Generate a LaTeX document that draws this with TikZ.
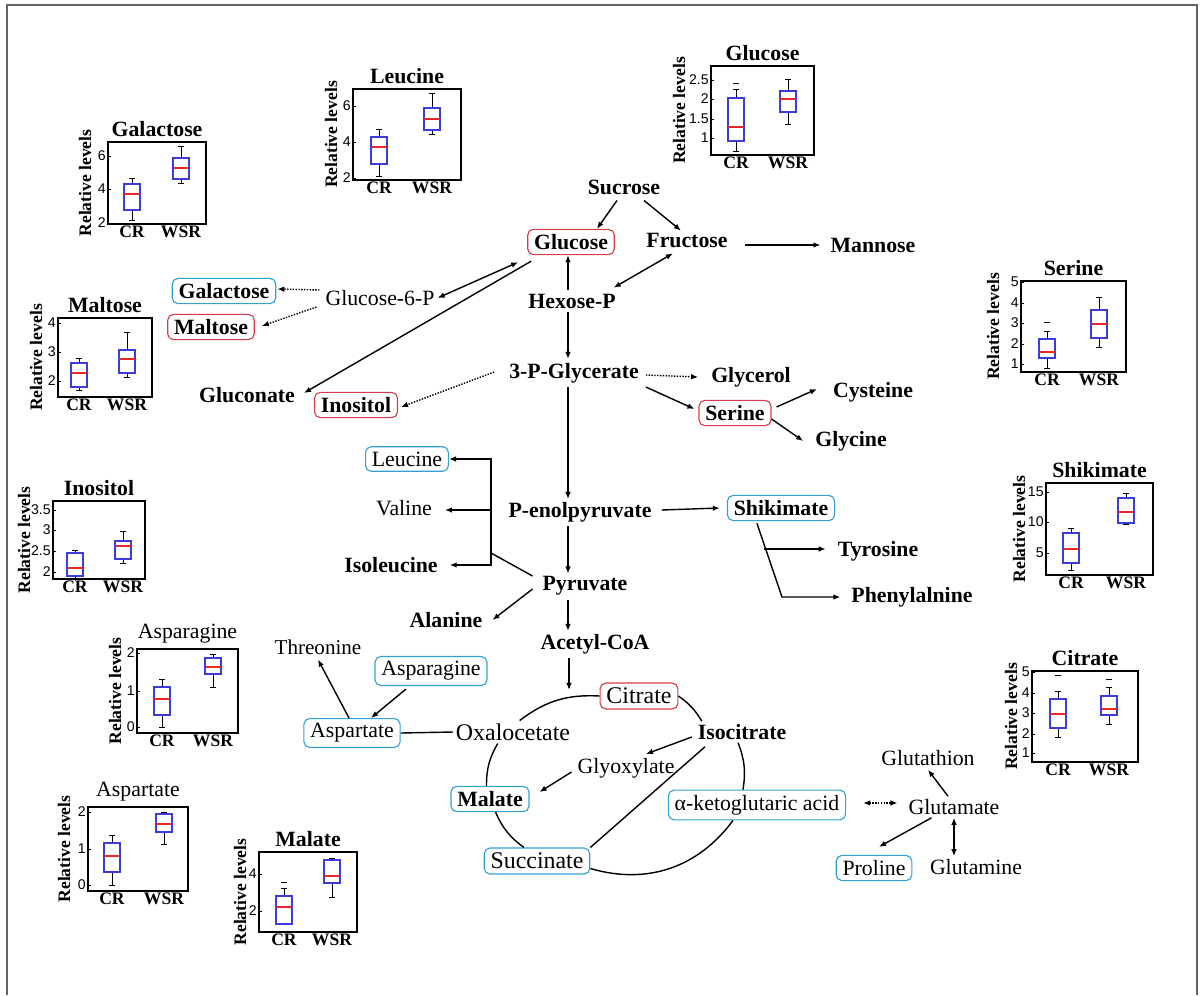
\documentclass[tikz,border=0pt]{standalone}
\usepackage{fontspec}
\setmainfont{Liberation Serif}
\setsansfont{Liberation Sans}
\usetikzlibrary{arrows.meta,calc}
\definecolor{up_red}{RGB}{215, 60, 70}
\definecolor{dn_blue}{RGB}{50, 160, 215}
\definecolor{box_blue}{RGB}{60, 60, 220}
\definecolor{med_red}{RGB}{235, 40, 40}
\definecolor{outer_gray}{RGB}{100, 100, 100}
\tikzstyle{met}=[font=\bfseries\fontsize{15.5}{18}\selectfont,inner sep=2pt]
\tikzstyle{metr}=[font=\fontsize{15.5}{18}\selectfont,inner sep=2pt]
\tikzstyle{upbox}=[draw=up_red,rounded corners=4pt,line width=0.8pt,
  inner xsep=4.5pt,inner ysep=3.5pt]
\tikzstyle{dnbox}=[draw=dn_blue,rounded corners=4pt,line width=0.8pt,
  inner xsep=4.5pt,inner ysep=3.5pt]
\tikzstyle{ln}=[line width=1pt]
\tikzstyle{arr}=[line width=1pt,->]
\tikzstyle{arr2}=[line width=1pt,<->]
\tikzstyle{dotarr}=[line width=1pt,densely dotted,->]
\tikzstyle{dotarr2}=[line width=1pt,densely dotted,<->]
\tikzstyle{outer}=[draw=outer_gray,line width=1.4pt]
\tikzstyle{frm}=[line width=1pt]
\tikzstyle{whisk}=[line width=0.7pt]
\tikzstyle{bx}=[draw=box_blue,line width=0.8pt]
\tikzstyle{med}=[draw=med_red,line width=1pt]
\tikzstyle{ctitle}=[font=\bfseries\fontsize{15.5}{18}\selectfont,inner sep=1pt]
\tikzstyle{clab}=[font=\bfseries\fontsize{12.5}{14}\selectfont,inner sep=1pt]
\tikzstyle{ylab}=[font=\bfseries\fontsize{12.5}{14}\selectfont,inner sep=0pt]
\tikzstyle{tck}=[font=\sffamily\fontsize{10}{12}\selectfont,anchor=east,inner sep=1.5pt]
\newcommand{\relchart}[9]{%
  \draw [style=frm] (#1,#2) rectangle (#3,#4);
  \node [style=ctitle, anchor=south] (#9t) at ({(#1+#3)/2},#2-4) {#7};
  \node [style=clab, anchor=north] (#9c) at (#5,#4) {CR};
  \node [style=clab, anchor=north] (#9w) at (#6,#4) {WSR};
  \node [style=ylab, rotate=90] (#9y) at (#8,{(#2+#4)/2}) {Relative levels};
}
\newcommand{\relticks}[3]{%
  \foreach \yy/\tv [count=\tn] in {#3} {
    \node [style=tck] (#2\tn) at (#1,\yy) {\tv};
    \draw (#1,\yy) -- ++(3,0);
  }
}
\newcommand{\relbox}[6]{%
  \draw [style=whisk] (#1,#2) -- (#1,#3) (#1,#5) -- (#1,#6)
    (#1-3,#2) -- (#1+3,#2) (#1-3,#6) -- (#1+3,#6);
  \draw [style=bx] (#1-8,#3) rectangle (#1+8,#5);
  \draw [style=med] (#1-8,#4) -- (#1+8,#4);
}
\newcommand{\relout}[2]{\draw [style=whisk] (#1-3,#2) -- (#1+3,#2);}

\begin{document}
\begin{tikzpicture}[x=0.025cm, y=-0.025cm, >={Latex[length=5pt,width=4pt]}]
            \useasboundingbox (0,0) rectangle (1204,995);
            \draw [style=outer] (7,995) -- (7,5) -- (1197,5) -- (1197,995);

            \relchart{108}{142}{206}{224}{132}{181}{Galactose}{85}{ga}
            \relticks{108}{gak}{156/6,189/4,223/2}
            \relbox{132}{220}{210}{194}{184}{178}
            \relbox{181}{183}{179}{168}{158}{146}

            \relchart{353}{89}{461}{180}{379}{432}{Leucine}{331}{le}
            \relticks{353}{lek}{106/6,142/4,178/2}
            \relbox{379}{176}{164}{147}{137}{129}
            \relbox{432}{134}{130}{119}{108}{93}

            \relchart{711}{66}{814}{155}{736}{788}{Glucose}{679}{gl}
            \relticks{711}{glk}{80/2.5,99/2,119/1.5,138/1}
            \relbox{736}{151}{141}{127}{98}{89}
            \relout{736}{83}
            \relbox{788}{124}{112}{99}{91}{79}

            \relchart{58}{318}{152}{397}{79}{127}{Maltose}{36}{ma}
            \relticks{58}{mak}{323/4,352/3,381/2}
            \relbox{79}{390}{387}{373}{363}{358}
            \relbox{127}{377}{373}{359}{350}{332}

            \relchart{53}{501}{145}{579}{75}{123}{Inositol}{24}{in}
            \relticks{53}{ink}{510/3.5,530/3,551/2.5,572/2}
            \relbox{75}{578}{576}{568}{553}{550}
            \relbox{123}{563}{559}{546}{541}{531}

            \relchart{1021}{281}{1126}{372}{1047}{1099}{Serine}{993}{se}
            \relticks{1021}{sek}{282/5,303/4,323/3,344/2,364/1}
            \relbox{1047}{368}{358}{352}{339}{331}
            \relout{1047}{322}
            \relbox{1099}{347}{338}{324}{310}{297}

            \relchart{1046}{483}{1153}{575}{1071}{1126}{Shikimate}{1019}{sh}
            \relticks{1046}{shk}{492/15,522/10,553/5}
            \relbox{1071}{570}{563}{549}{533}{528}
            \relbox{1126}{524}{523}{512}{498}{493}

            \relchart{1032}{671}{1138}{762}{1058}{1109}{Citrate}{1011}{ci}
            \relticks{1032}{cik}{672/5,693/4,713/3,734/2,753/1}
            \relbox{1058}{737}{728}{714}{699}{691}
            \relout{1058}{675}
            \relbox{1109}{724}{715}{709}{696}{687}
            \relout{1109}{679}

            \relchart{137}{649}{238}{733}{162}{213}{\mdseries Asparagine}{115}{an}
            \relticks{137}{ank}{653/2,691/1,727/0}
            \relbox{162}{727}{715}{699}{687}{679}
            \relbox{213}{687}{674}{667}{658}{654}

            \relchart{88}{807}{188}{891}{112}{164}{\mdseries Aspartate}{64}{ap}
            \relticks{88}{apk}{812/2,849/1,885/0}
            \relbox{112}{885}{872}{856}{843}{835}
            \relbox{164}{844}{832}{824}{814}{812}

            \relchart{259}{852}{357}{932}{284}{332}{Malate}{240}{ml}
            \relticks{259}{mlk}{874/4,911/2}
            \relbox{284}{924}{924}{907}{896}{888}
            \relout{284}{882}
            \relbox{332}{897}{883}{876}{860}{858}

            \node [style=met] (0) at (624, 187) {Sucrose};
            \node [style=met, upbox] (1) at (571, 242) {Glucose};
            \node [style=met] (2) at (687, 240) {Fructose};
            \node [style=met] (3) at (873, 245) {Mannose};
            \node [style=met] (4) at (572, 301) {Hexose-P};
            \node [style=metr] (5) at (380, 298) {Glucose-6-P};
            \node [style=met, dnbox] (6) at (224, 291) {Galactose};
            \node [style=met, upbox] (7) at (211, 327) {Maltose};
            \node [style=met] (8) at (247, 395) {Gluconate};
            \node [style=met, upbox] (9) at (356, 405) {Inositol};
            \node [style=met] (10) at (574, 373) {3-P-Glycerate};
            \node [style=met] (11) at (751, 377) {Glycerol};
            \node [style=met, upbox] (12) at (735, 413) {Serine};
            \node [style=met] (13) at (873, 392) {Cysteine};
            \node [style=met] (14) at (851, 441) {Glycine};
            \node [style=metr, dnbox] (15) at (407, 459) {Leucine};
            \node [style=metr] (16) at (404, 508) {Valine};
            \node [style=met] (17) at (580, 512) {P-enolpyruvate};
            \node [style=met, dnbox] (18) at (781, 508) {Shikimate};
            \node [style=met] (19) at (391, 565) {Isoleucine};
            \node [style=met] (20) at (585, 586) {Pyruvate};
            \node [style=met] (21) at (878, 551) {Tyrosine};
            \node [style=met] (22) at (912, 597) {Phenylalnine};
            \node [style=met] (23) at (446, 620) {Alanine};
            \node [style=met] (24) at (595, 644) {Acetyl-CoA};
            \node [style=metr, font=\fontsize{15}{18}\selectfont] (25) at (318, 647) {Threonine};
            \node [style=metr, dnbox] (26) at (431, 671) {Asparagine};
            \node [style=metr, dnbox] (27) at (352, 733) {Aspartate};
            \node [style=metr, font=\fontsize{17}{20}\selectfont] (28) at (513, 732) {Oxalocetate};
            \node [style=metr, upbox, font=\fontsize{17}{20}\selectfont] (29) at (639, 696) {Citrate};
            \node [style=met] (30) at (742, 732) {Isocitrate};
            \node [style=metr] (31) at (626, 768) {Glyoxylate};
            \node [style=met, dnbox] (32) at (490, 799) {Malate};
            \node [style=metr, dnbox] (33) at (757, 805) {α-ketoglutaric acid};
            \node [style=metr, dnbox, font=\fontsize{17}{20}\selectfont] (34) at (537, 861) {Succinate};
            \node [style=metr] (35) at (928, 758) {Glutathion};
            \node [style=metr] (36) at (954, 807) {Glutamate};
            \node [style=metr, dnbox] (37) at (874, 868) {Proline};
            \node [style=metr] (38) at (976, 867) {Glutamine};
            \coordinate (40) at (569, 690);
            \coordinate (41) at (491, 553);
            \coordinate (42) at (491, 459);
            \coordinate (43) at (491, 510);
            \coordinate (44) at (491, 565);
            \coordinate (45) at (782, 597);
            \coordinate (46) at (764, 549);

            \draw [style=arr] ($(0.south)+(-7,3)$) to ($(1.north)+(26,0)$);
            \draw [style=arr] ($(0.south)+(20,3)$) to ($(2.north)+(-6,1)$);
            \draw [style=arr] ($(2.east)+(14,5)$) to ($(3.west)+(-7,0)$);
            \draw [style=arr2] ($(2.south)+(-14,3)$) to ($(4.north east)+(-5,-3)$);
            \draw [style=arr] ($(4.north)+(-4,-1)$) to ($(1.south)+(-3,0)$);
            \draw [style=arr2] (5.east) to ($(1.south west)+(-9,7)$);
            \draw [style=arr] ($(1.south west)+(4,6)$) to ($(8.east)+(6,-2)$);
            \draw [style=dotarr] ($(5.west)+(-3,-8)$) to ($(6.east)+(1,-2)$);
            \draw [style=dotarr] ($(5.west)+(-6,9)$) to ($(7.east)+(7,-1)$);
            \draw [style=dotarr] ($(10.west)+(-12,-1)$) to ($(9.east)+(3,2)$);
            \draw [style=dotarr] ($(10.east)+(4,2)$) to ($(11.west)+(-10,0)$);
            \draw [style=arr] ($(10.east)+(4,14)$) to ($(12.west)+(-4,-4)$);
            \draw [style=arr] ($(12.east)+(5,-6)$) to ($(13.west)+(-13,-3)$);
            \draw [style=arr] ($(12.east)+(0,6)$) to ($(14.west)+(-9,0)$);
            \draw [style=arr] ($(4.south)+(-4,1)$) to ($(10.north)+(-6,-1)$);
            \draw [style=arr] ($(10.south)+(-6,1)$) to ($(17.north)+(-12,0)$);
            \draw [style=arr] ($(17.south)+(-12,1)$) to ($(20.north)+(-17,0)$);
            \draw [style=arr] ($(20.south)+(-17,1)$) to ($(24.north)+(-27,0)$);
            \draw [style=arr] ($(24.south)+(-26,1)$) to (40);
            \draw [style=arr] ($(17.east)+(7,-2)$) to ($(18.west)+(-7,0)$);
            \draw [style=arr] ($(18.south west)+(30,2)$) to (45) to ($(22.west)+(-8,0)$);
            \draw [style=arr] (46) to ($(21.west)+(-9,-2)$);
            \draw [style=ln] ($(20.west)+(-7,-10)$) to (41);
            \draw [style=arr] (41) to (42) to (15.east);
            \draw [style=arr] (43) to ($(16.east)+(10,2)$);
            \draw [style=arr] (41) to (44) to ($(19.east)+(9,0)$);
            \draw [style=arr] ($(20.west)+(-7,3)$) to ($(23.east)+(7,0)$);
            \draw [style=arr] ($(26.south)+(-25,3)$) to ($(27.north)+(19,0)$);
            \draw [style=arr] ($(27.north)+(-3,0)$) to ($(25.south)+(0,2)$);
            \draw [style=ln] (28.west) to (27.east);
            \draw [style=arr] ($(30.west)+(-3,5)$) to ($(31.north)+(20,-1)$);
            \draw [style=arr] ($(31.west)+(-3,4)$) to ($(32.east)+(10,-7)$);
            \draw [style=ln] ($(30.south)+(-37,4)$) to (34.north east);
            \draw [style=ln, bend left=20] (28.60) to (29.west);
            \draw [style=ln, bend left=12] (29.east) to (30.165);
            \draw [style=ln, bend left=15] (30.250) to ($(33.north)+(-14,0)$);
            \draw [style=ln, bend left=35] ($(33.south)+(-24,0)$) to (34.352);
            \draw [style=ln, bend left=15] ($(34.north)+(-13,0)$) to (32.293);
            \draw [style=ln, bend left=15] (32.105) to (28.217);
            \draw [style=dotarr2] ($(33.east)+(17,-2)$) to ($(36.west)+(-8,-4)$);
            \draw [style=arr] ($(36.north)+(-6,0)$) to ($(35.south)+(0,1)$);
            \draw [style=arr] ($(36.south west)+(26,0)$) to ($(37.north)+(5,-8)$);
            \draw [style=arr2] (36.south) to ($(38.north)+(-22,0)$);
\end{tikzpicture}
\end{document}
